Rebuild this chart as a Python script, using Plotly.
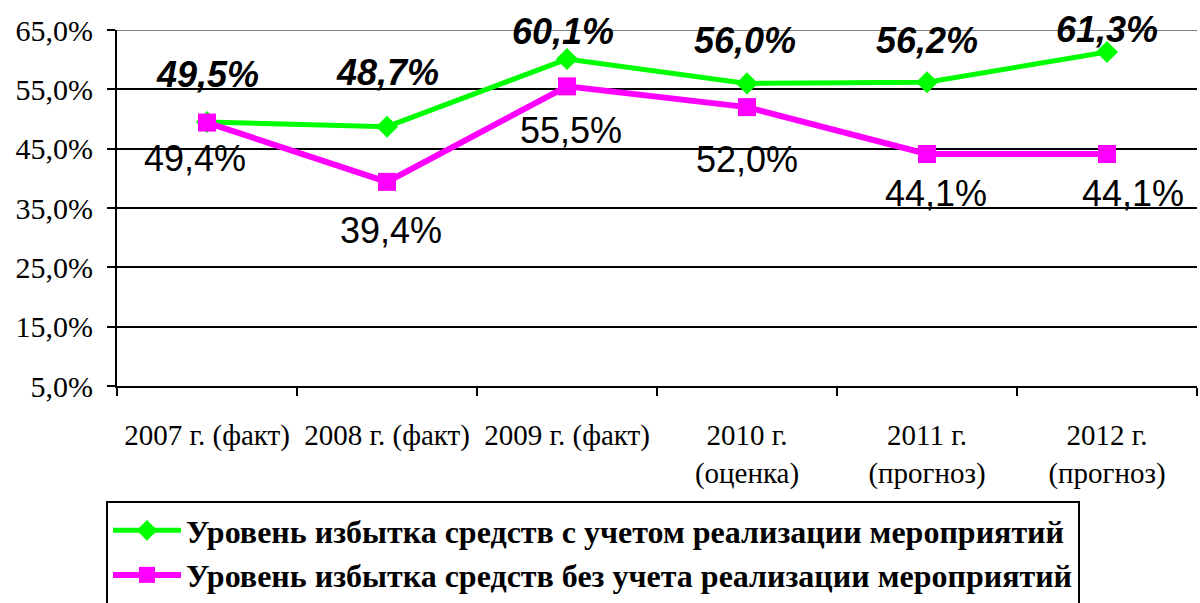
import plotly.graph_objects as go

categories = ["2007 г. (факт)", "2008 г. (факт)", "2009 г. (факт)",
              "2010 г.<br>(оценка)", "2011 г.<br>(прогноз)", "2012 г.<br>(прогноз)"]
with_measures = [49.5, 48.7, 60.1, 56.0, 56.2, 61.3]
without_measures = [49.4, 39.4, 55.5, 52.0, 44.1, 44.1]
name_with = "Уровень избытка средств с учетом реализации мероприятий"
name_without = "Уровень избытка средств без учета реализации мероприятий"
y_ticks = [5, 15, 25, 35, 45, 55, 65]
y_tick_labels = ["5,0%", "15,0%", "25,0%", "35,0%", "45,0%", "55,0%", "65,0%"]

GREEN = "#00FF00"
MAGENTA = "#FF00FF"

def fmt(v):
    return f"{v:.1f}%".replace(".", ",")

fig = go.Figure()
fig.add_trace(go.Scatter(
    x=categories, y=with_measures, name=name_with, mode="lines+markers",
    line=dict(color=GREEN, width=5),
    marker=dict(symbol="diamond", size=17, color=GREEN),
    legendgroup="a", cliponaxis=False,
))
fig.add_trace(go.Scatter(
    x=categories, y=without_measures, name=name_without, mode="lines+markers",
    line=dict(color=MAGENTA, width=6),
    marker=dict(symbol="square", size=18, color=MAGENTA),
    legendgroup="b", cliponaxis=False,
))

green_shift = [47, 54, 28, 43, 42, 22]
green_xshift = [0, 0, -4, -2, 0, 0]
for c, v, s, xs in zip(categories, with_measures, green_shift, green_xshift):
    fig.add_annotation(x=c, y=v, text=fmt(v), showarrow=False, yshift=s, xshift=xs,
                       font=dict(family="Liberation Sans", size=36, color="black",
                                 weight="bold", style="italic"))

magenta_shift = [-36, -49, -44, -52, -39, -39]
magenta_xshift = [-12, 4, 4, 0, 9, 26]
for c, v, s, xs in zip(categories, without_measures, magenta_shift, magenta_xshift):
    fig.add_annotation(x=c, y=v, text=fmt(v), showarrow=False, yshift=s, xshift=xs,
                       font=dict(family="Liberation Sans", size=36, color="black"))

fig.add_shape(type="line", xref="paper", yref="y", x0=0, x1=1, y0=y_ticks[-1], y1=y_ticks[-1],
              line=dict(color="#808080", width=2), layer="between")

fig.update_layout(
    width=1200, height=603,
    margin=dict(l=117, r=3, t=30, b=217, autoexpand=False),
    paper_bgcolor="white", plot_bgcolor="white",
    showlegend=True,
    legend=dict(
        xref="container", yref="container",
        x=106 / 1200, y=1 - 501 / 603, xanchor="left", yanchor="top",
        bordercolor="black", borderwidth=2, bgcolor="white",
        font=dict(family="Liberation Serif", size=32, color="black", weight="bold"),
        itemwidth=68, tracegroupgap=15, traceorder="normal",
    ),
    xaxis=dict(
        type="category", showgrid=False, showline=True, linecolor="black", linewidth=2,
        ticks="outside", tickson="boundaries", ticklen=8, tickwidth=2, tickcolor="black",
        tickfont=dict(family="Liberation Serif", size=29, color="black"),
        ticklabelstandoff=22, range=[-0.5, 5.5], fixedrange=True,
    ),
    yaxis=dict(
        range=[5, 65], tickvals=y_ticks, ticktext=y_tick_labels,
        showgrid=True, gridcolor="black", gridwidth=2,
        showline=True, linecolor="black", linewidth=2,
        ticks="outside", ticklen=8, tickwidth=2, tickcolor="black",
        tickfont=dict(family="Liberation Serif", size=30, color="black"),
        ticklabelstandoff=8, zeroline=False,
    ),
)

fig.write_html("out.html", config={"displayModeBar": False},
               post_script="document.body.style.margin='0';document.body.style.overflow='hidden';")
